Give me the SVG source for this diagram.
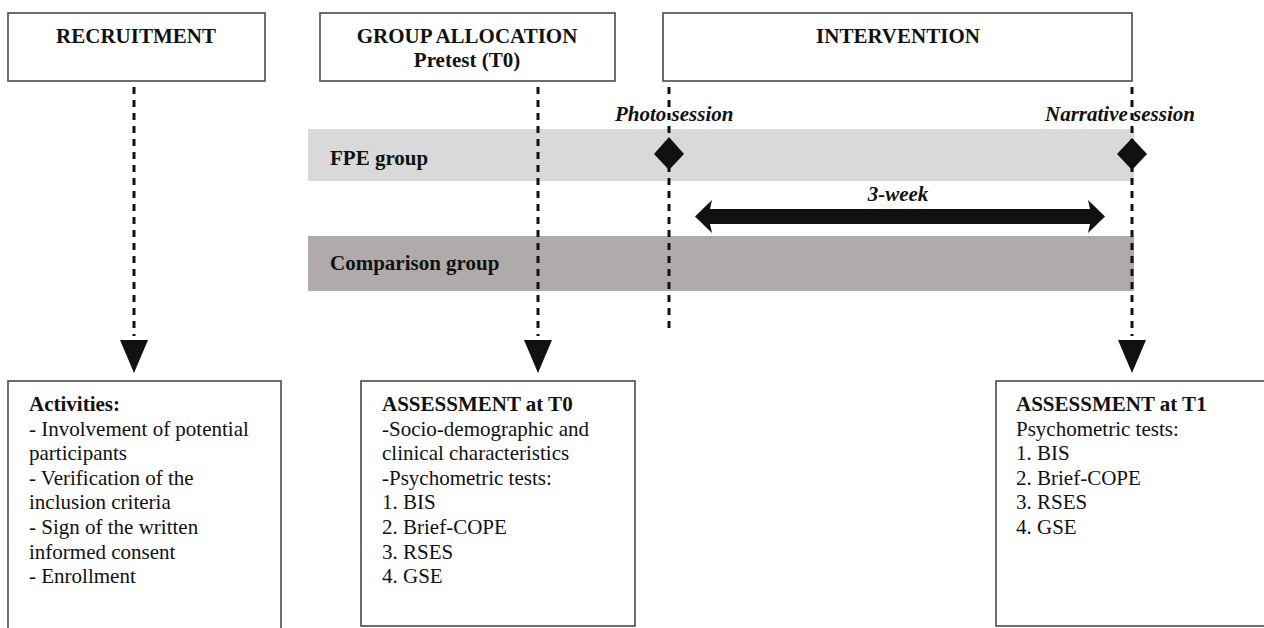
<svg xmlns="http://www.w3.org/2000/svg" width="1264" height="628" viewBox="0 0 1264 628">
<style>
.box{fill:#fff;stroke:#4a4a4a;stroke-width:1.6}
.t{font-family:"Liberation Serif","Times New Roman",serif;font-size:21px;fill:#111}
.b{font-weight:bold}
.bi{font-weight:bold;font-style:italic}
.dash{stroke:#111;stroke-width:3;stroke-dasharray:7 6;fill:none}
.head{fill:#111}
</style>
<rect width="1264" height="628" fill="#fff"/>
<g id="bands">
<rect id="fpe-band" x="308" y="129" width="826" height="52" fill="#d9d9d9"/>
<rect id="comp-band" x="308" y="236" width="826" height="55" fill="#afabab"/>
<text class="t b" x="330" y="165">FPE group</text>
<text class="t b" x="330" y="270">Comparison group</text>
</g>
<g id="recruitment">
<rect class="box" x="8" y="13" width="257" height="68"/>
<text class="t b" x="136" y="43" text-anchor="middle">RECRUITMENT</text>
</g>
<g id="group-allocation">
<rect class="box" x="320" y="13" width="295" height="68"/>
<text class="t b" x="467" y="43" text-anchor="middle">GROUP ALLOCATION</text>
<text class="t b" x="467" y="67" text-anchor="middle">Pretest (T0)</text>
</g>
<g id="intervention">
<rect class="box" x="663" y="13" width="469" height="68"/>
<text class="t b" x="898" y="43" text-anchor="middle">INTERVENTION</text>
</g>
<g id="connectors">
<line class="dash" x1="134" y1="87" x2="134" y2="336"/>
<polygon class="head" points="120,340 148,340 134,373"/>
<line class="dash" x1="538" y1="87" x2="538" y2="336"/>
<polygon class="head" points="524,340 552,340 538,373"/>
<line class="dash" x1="669" y1="87" x2="669" y2="334"/>
<line class="dash" x1="1132" y1="87" x2="1132" y2="336"/>
<polygon class="head" points="1118,340 1146,340 1132,373"/>
<polygon class="head" points="695,216.5 712,200 710,209 1090,209 1088,200 1105,216.5 1088,233 1090,224 710,224 712,233"/>
<text class="t bi" x="898" y="201" text-anchor="middle">3-week</text>
</g>
<g id="photo-session">
<polygon class="head" points="669,137 684,154 669,170 654,154"/>
<text class="t bi" x="615" y="121">Photo session</text>
</g>
<g id="narrative-session">
<polygon class="head" points="1132,138 1147,154 1132,170 1117,154"/>
<text class="t bi" x="1045" y="121">Narrative session</text>
</g>
<g id="activities">
<rect class="box" x="8" y="381" width="273" height="260"/>
<text class="t" x="29" y="411"><tspan class="b">Activities:</tspan><tspan x="29" dy="24.6">- Involvement of potential</tspan><tspan x="29" dy="24.6">participants</tspan><tspan x="29" dy="24.6">- Verification of the</tspan><tspan x="29" dy="24.6">inclusion criteria</tspan><tspan x="29" dy="24.6">- Sign of the written</tspan><tspan x="29" dy="24.6">informed consent</tspan><tspan x="29" dy="24.6">- Enrollment</tspan></text>
</g>
<g id="assessment-t0">
<rect class="box" x="361" y="381" width="274" height="245"/>
<text class="t" x="382" y="411"><tspan class="b">ASSESSMENT at T0</tspan><tspan x="382" dy="24.6">-Socio-demographic and</tspan><tspan x="382" dy="24.6">clinical characteristics</tspan><tspan x="382" dy="24.6">-Psychometric tests:</tspan><tspan x="382" dy="24.6">1. BIS</tspan><tspan x="382" dy="24.6">2. Brief-COPE</tspan><tspan x="382" dy="24.6">3. RSES</tspan><tspan x="382" dy="24.6">4. GSE</tspan></text>
</g>
<g id="assessment-t1">
<rect class="box" x="996" y="381" width="280" height="245"/>
<text class="t" x="1016" y="411"><tspan class="b">ASSESSMENT at T1</tspan><tspan x="1016" dy="24.6">Psychometric tests:</tspan><tspan x="1016" dy="24.6">1. BIS</tspan><tspan x="1016" dy="24.6">2. Brief-COPE</tspan><tspan x="1016" dy="24.6">3. RSES</tspan><tspan x="1016" dy="24.6">4. GSE</tspan></text>
</g>
</svg>
